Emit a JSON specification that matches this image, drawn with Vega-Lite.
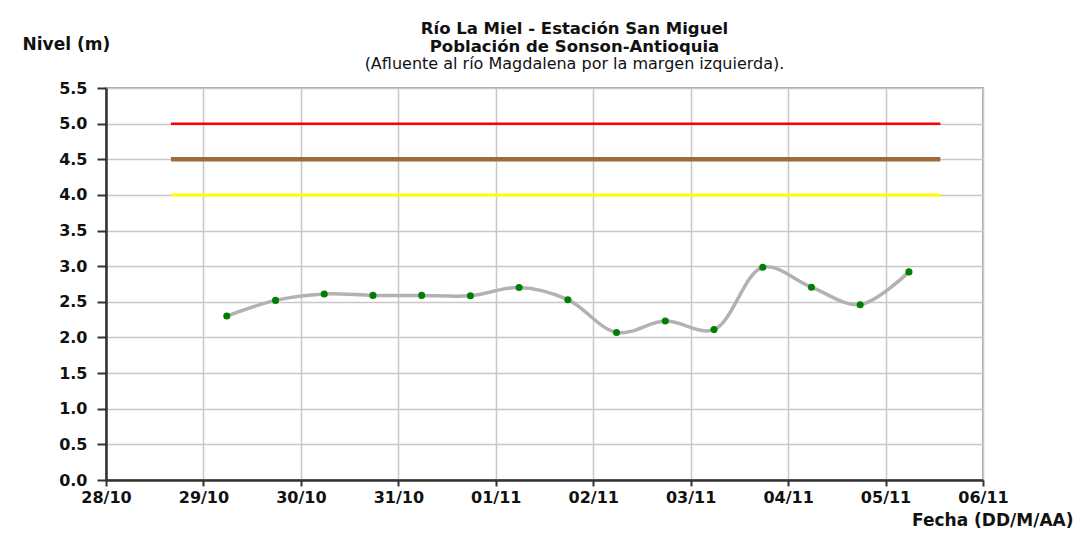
{
  "$schema": "https://vega.github.io/schema/vega-lite/v6.json",
  "width": 877,
  "height": 392,
  "autosize": "none",
  "padding": {"left": 106, "top": 88, "right": 97, "bottom": 57},
  "background": "white",
  "title": {
    "text": ["Río La Miel  - Estación San Miguel", "Población de Sonson-Antioquia"],
    "subtitle": "(Afluente al río Magdalena por la margen izquierda).",
    "anchor": "middle",
    "dx": 30,
    "offset": -37,
    "font": "DejaVu Sans",
    "fontSize": 16.5,
    "fontWeight": "bold",
    "lineHeight": 18,
    "color": "#111111",
    "subtitleFont": "DejaVu Sans",
    "subtitleFontSize": 16,
    "subtitleFontWeight": "normal",
    "subtitleColor": "#111111",
    "subtitleLineHeight": 17,
    "subtitlePadding": 1
  },
  "config": {
    "view": {"stroke": "#a8a8a8", "strokeWidth": 2},
    "axis": {
      "labelFont": "DejaVu Sans",
      "labelFontSize": 16,
      "labelFontWeight": "bold",
      "labelColor": "#111111",
      "titleFont": "DejaVu Sans",
      "titleFontSize": 17,
      "titleFontWeight": "bold",
      "titleColor": "#111111",
      "domainColor": "#333333",
      "domainWidth": 2.5,
      "tickColor": "#333333",
      "tickWidth": 2,
      "gridColor": "#c8c8c8",
      "gridWidth": 1.5
    }
  },
  "datasets": {
    "niveles": [
      {"fecha": "2023-10-29T05:45", "nivel": 2.30},
      {"fecha": "2023-10-29T17:45", "nivel": 2.52},
      {"fecha": "2023-10-30T05:45", "nivel": 2.61},
      {"fecha": "2023-10-30T17:45", "nivel": 2.59},
      {"fecha": "2023-10-31T05:45", "nivel": 2.59},
      {"fecha": "2023-10-31T17:45", "nivel": 2.585},
      {"fecha": "2023-11-01T05:45", "nivel": 2.70},
      {"fecha": "2023-11-01T17:45", "nivel": 2.53},
      {"fecha": "2023-11-02T05:45", "nivel": 2.07},
      {"fecha": "2023-11-02T17:45", "nivel": 2.23},
      {"fecha": "2023-11-03T05:45", "nivel": 2.11},
      {"fecha": "2023-11-03T17:45", "nivel": 2.985},
      {"fecha": "2023-11-04T05:45", "nivel": 2.705},
      {"fecha": "2023-11-04T17:45", "nivel": 2.46},
      {"fecha": "2023-11-05T05:45", "nivel": 2.92}
    ],
    "umbrales": [
      {"alerta": "roja", "nivel": 5.0, "inicio": "2023-10-28T16:00", "fin": "2023-11-05T13:30"},
      {"alerta": "naranja", "nivel": 4.5, "inicio": "2023-10-28T16:00", "fin": "2023-11-05T13:30"},
      {"alerta": "amarilla", "nivel": 4.0, "inicio": "2023-10-28T16:00", "fin": "2023-11-05T13:30"}
    ]
  },
  "encoding": {
    "x": {
      "field": "fecha",
      "type": "temporal",
      "scale": {"domain": [{"year": 2023, "month": "oct", "date": 28}, {"year": 2023, "month": "nov", "date": 6}]},
      "axis": {
        "values": [
          {"year": 2023, "month": "oct", "date": 28},
          {"year": 2023, "month": "oct", "date": 29},
          {"year": 2023, "month": "oct", "date": 30},
          {"year": 2023, "month": "oct", "date": 31},
          {"year": 2023, "month": "nov", "date": 1},
          {"year": 2023, "month": "nov", "date": 2},
          {"year": 2023, "month": "nov", "date": 3},
          {"year": 2023, "month": "nov", "date": 4},
          {"year": 2023, "month": "nov", "date": 5},
          {"year": 2023, "month": "nov", "date": 6}
        ],
        "format": "%d/%m",
        "tickSize": 6,
        "labelPadding": 3,
        "labelFlush": false,
        "labelOverlap": false,
        "title": "Fecha (DD/M/AA)",
        "titleAnchor": "end",
        "titleAlign": "right",
        "titleBaseline": "middle",
        "titleX": 967,
        "titleY": 40
      }
    },
    "y": {
      "field": "nivel",
      "type": "quantitative",
      "scale": {"domain": [0, 5.5], "nice": false, "zero": true},
      "axis": {
        "values": [0, 0.5, 1, 1.5, 2, 2.5, 3, 3.5, 4, 4.5, 5, 5.5],
        "format": ".1f",
        "tickSize": 9,
        "labelPadding": 10,
        "title": "Nivel (m)",
        "titleAngle": 0,
        "titleAlign": "left",
        "titleBaseline": "middle",
        "titleX": -84,
        "titleY": -44
      }
    }
  },
  "layer": [
    {
      "data": {"name": "umbrales"},
      "transform": [{"filter": "datum.alerta === 'amarilla'"}],
      "mark": {"type": "rule", "color": "#ffff00", "strokeWidth": 3},
      "encoding": {"x": {"field": "inicio", "type": "temporal"}, "x2": {"field": "fin"}, "y": {"field": "nivel", "type": "quantitative"}}
    },
    {
      "data": {"name": "umbrales"},
      "transform": [{"filter": "datum.alerta === 'naranja'"}],
      "mark": {"type": "rule", "color": "#9e6b3b", "strokeWidth": 4.5},
      "encoding": {"x": {"field": "inicio", "type": "temporal"}, "x2": {"field": "fin"}, "y": {"field": "nivel", "type": "quantitative"}}
    },
    {
      "data": {"name": "umbrales"},
      "transform": [{"filter": "datum.alerta === 'roja'"}],
      "mark": {"type": "rule", "color": "#ff0000", "strokeWidth": 2.5},
      "encoding": {"x": {"field": "inicio", "type": "temporal"}, "x2": {"field": "fin"}, "y": {"field": "nivel", "type": "quantitative"}}
    },
    {
      "data": {"name": "niveles"},
      "mark": {"type": "line", "color": "#b2b2b2", "strokeWidth": 3.5, "interpolate": "catmull-rom"},
      "encoding": {}
    },
    {
      "data": {"name": "niveles"},
      "mark": {"type": "point", "filled": true, "color": "#008000", "opacity": 1, "size": 50},
      "encoding": {}
    }
  ]
}
